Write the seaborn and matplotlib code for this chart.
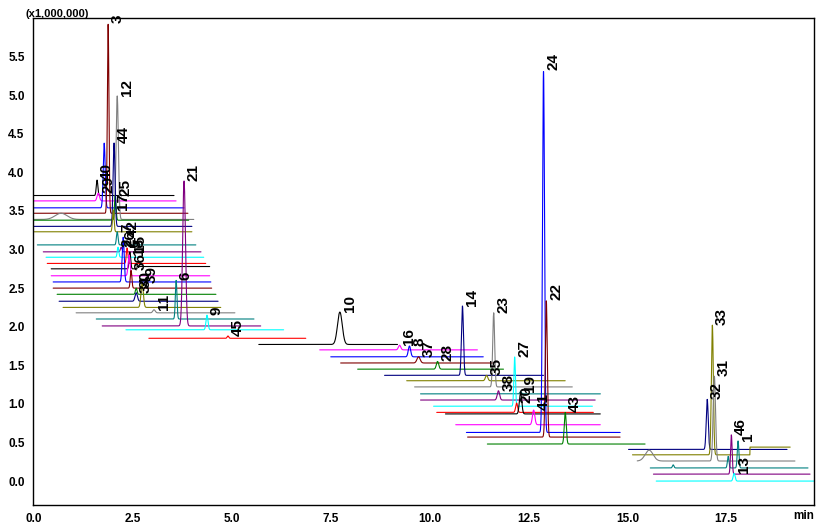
import numpy as np
import pandas as pd
import matplotlib
matplotlib.use("Agg")
import matplotlib.pyplot as plt
import seaborn as sns
from matplotlib.ticker import MultipleLocator

# one colour per chromatogram trace, top of the stack first
trace_colors = [
    "#000000", "#ff00ff", "#0000ff", "#800000", "#808080", "#008000", "#000080", "#808000",
    "#008080", "#800080", "#00ffff", "#ff0000", "#000000", "#ff00ff", "#0000ff", "#800000",
    "#008000", "#000080", "#808000", "#808080", "#008080", "#800080", "#00ffff", "#ff0000",
    "#000000", "#ff00ff", "#0000ff", "#800000", "#008000", "#000080", "#808000", "#808080",
    "#008080", "#800080", "#00ffff", "#ff0000", "#000000", "#ff00ff", "#0000ff", "#800000",
    "#008000", "#000080", "#808000", "#808080", "#008080", "#800080", "#00ffff",
]
# time window (min) and baseline (x1,000,000) of each trace
trace_start = [0.0, 0.0, 0.0, 0.0, 0.0, 0.0, 0.0, 0.0, 0.08, 0.23, 0.30, 0.33, 0.43, 0.43, 0.48, 0.48,
               0.58, 0.63, 0.73, 1.06, 1.57, 1.72, 2.32, 2.90, 5.68, 7.22, 7.50, 7.75, 8.18, 8.86, 9.42, 9.62,
               9.77, 9.77, 10.10, 10.18, 10.40, 10.66, 10.93, 10.96, 11.46, 15.03, 15.13, 15.25, 15.58, 15.66, 15.73]
trace_end = [3.54, 3.59, 3.79, 3.89, 4.04, 3.91, 3.99, 3.99, 4.09, 4.22, 4.29, 4.34, 4.44, 4.44, 4.47, 4.49,
             4.60, 4.65, 4.72, 5.08, 5.56, 5.73, 6.31, 6.87, 9.19, 11.21, 11.36, 11.62, 11.87, 12.88, 13.43, 13.61,
             14.32, 14.19, 14.12, 14.14, 14.32, 14.32, 14.82, 14.82, 15.45, 19.04, 19.12, 19.24, 19.57, 19.62, 19.72]
trace_base = [3.70, 3.63, 3.54, 3.47, 3.39, 3.38, 3.30, 3.23, 3.06, 2.97, 2.90, 2.82, 2.75, 2.66, 2.58, 2.50,
              2.42, 2.33, 2.25, 2.18, 2.10, 2.01, 1.96, 1.85, 1.77, 1.70, 1.61, 1.53, 1.45, 1.37, 1.30, 1.22,
              1.13, 1.05, 0.97, 0.89, 0.87, 0.73, 0.63, 0.57, 0.48, 0.41, 0.34, 0.26, 0.17, 0.09, 0.00]

# baseline shifts after a given time: trace index, time, shift
step_trace = [12, 42]
step_time = [2.60, 18.10]
step_shift = [0.03, 0.10]

# peaks: trace index, retention time, height above baseline, width, label
peak_trace = [0, 1, 2, 3, 4, 4, 5, 6, 7, 8, 9, 10, 11, 12, 13, 14, 15, 16, 17, 18, 19, 20, 21, 22, 23,
              24, 25, 26, 27, 28, 29, 30, 31, 32, 33, 34, 35, 36, 37, 38, 39, 40,
              41, 42, 43, 43, 44, 44, 44, 45, 46]
peak_rt = [1.59, 1.62, 1.77, 1.87, 2.10, 0.68, 2.05, 2.02, 2.00, 2.10, 2.20, 2.12, 2.35, 2.42, 2.40, 2.25,
           2.45, 2.58, 2.58, 2.73, 3.03, 3.59, 3.79, 4.37, 4.90,
           7.73, 9.24, 9.49, 9.72, 10.20, 10.83, 11.44, 11.62, 12.30, 11.74, 12.15, 12.20, 12.30, 12.63, 12.88,
           12.95, 13.43, 17.02, 17.15, 17.20, 15.55, 17.80, 17.55, 16.16, 17.63, 17.70]
peak_height = [0.20, 0.10, 0.84, 2.46, 1.60, 0.08, 0.32, 1.08, 0.28, 0.17, 0.06, 0.13, 0.20, 0.22, 0.27, 0.58,
               0.23, 0.08, 0.11, 0.31, 0.04, 0.50, 1.88, 0.19, 0.03,
               0.42, 0.06, 0.14, 0.08, 0.10, 0.90, 0.07, 0.96, 0.03, 0.12, 0.64, 0.12, 0.28, 0.19, 4.69,
               1.77, 0.41, 0.65, 1.68, 1.10, 0.14, 0.35, 0.15, 0.04, 0.51, 0.10]
peak_width = [0.02, 0.03, 0.025, 0.02, 0.03, 0.15, 0.02, 0.025, 0.02, 0.02, 0.02, 0.02, 0.02, 0.02, 0.025, 0.025,
              0.02, 0.02, 0.03, 0.03, 0.03, 0.02, 0.035, 0.025, 0.02,
              0.06, 0.03, 0.03, 0.04, 0.03, 0.025, 0.03, 0.025, 0.02, 0.03, 0.02, 0.025, 0.03, 0.03, 0.025,
              0.025, 0.025, 0.025, 0.025, 0.03, 0.1, 0.02, 0.02, 0.02, 0.02, 0.025]
peak_label = ["40", "29", None, "3", "12", None, "25", "44", "17", "7", "26", "2", "5", "15", "18", "42",
              "36", "30", "34", "39", "11", "6", "21", "9", "45",
              "10", "16", "8", "37", "28", "14", "35", "23", None, "38", "27", "20", "19", "41", "24",
              "22", "43", "32", "33", "31", None, "1", None, None, "46", "13"]

# build the traces
rows = []
for i in range(len(trace_colors)):
    t = np.arange(trace_start[i], trace_end[i], 0.004)
    y = np.full_like(t, trace_base[i])
    for s in range(len(step_trace)):
        if step_trace[s] == i:
            y[t >= step_time[s]] += step_shift[s]
    for p in range(len(peak_trace)):
        if peak_trace[p] == i:
            y += peak_height[p] * np.exp(-0.5 * ((t - peak_rt[p]) / peak_width[p]) ** 2)
    rows.append(pd.DataFrame({"time": t, "intensity": y, "trace": f"T{i:02d}"}))
df = pd.concat(rows, ignore_index=True)
palette = {f"T{i:02d}": c for i, c in enumerate(trace_colors)}

sns.set_style("white")
plt.rcParams["font.family"] = ["Liberation Sans", "DejaVu Sans"]
plt.rcParams["font.weight"] = "bold"
plt.rcParams["text.color"] = "black"
plt.rcParams["xtick.color"] = "black"
plt.rcParams["ytick.color"] = "black"

fig = plt.figure(figsize=(8.4, 5.25), dpi=100)
ax = fig.add_axes([33 / 840, 20 / 525, 781 / 840, 487 / 525])
sns.lineplot(data=df, x="time", y="intensity", hue="trace", palette=palette,
             estimator=None, sort=False, legend=False, linewidth=0.8, ax=ax)

for p in range(len(peak_trace)):
    if peak_label[p] is None:
        continue
    top = trace_base[peak_trace[p]] + peak_height[p]
    ax.annotate(peak_label[p], (peak_rt[p], top), xytext=(2, 0), textcoords="offset points",
                rotation=90, ha="left", va="bottom", fontsize=11, fontweight="bold", color="black")

ax.set_xlim(-0.03, 19.72)
ax.set_ylim(-0.31, 6.0)
ax.xaxis.set_minor_locator(MultipleLocator(0.5))
ax.yaxis.set_minor_locator(MultipleLocator(0.1))
ax.set_xticks(np.arange(0, 17.6, 2.5))
ax.set_xticklabels([f"{v:.1f}" for v in np.arange(0, 17.6, 2.5)])
ax.set_yticks(np.arange(0, 5.6, 0.5))
ax.set_yticklabels([f"{v:.1f}" for v in np.arange(0, 5.6, 0.5)])
ax.tick_params(which="major", direction="out", length=4, width=1, labelsize=8.5, pad=2,
               colors="black", labelcolor="black")
ax.tick_params(which="minor", direction="out", length=2.5, width=0.8, colors="black")
for s in ax.spines.values():
    s.set_color("black")
    s.set_linewidth(1.0)
ax.set_xlabel("")
ax.set_ylabel("")

fig.text(25 / 840, 1 - 9 / 525, "(x1,000,000)", ha="left", va="top", fontsize=8, fontweight="bold")
fig.text(814 / 840, 1 - 510 / 525, "min", ha="right", va="top", fontsize=8.5, fontweight="bold")

fig.savefig("out.png", dpi=100)
